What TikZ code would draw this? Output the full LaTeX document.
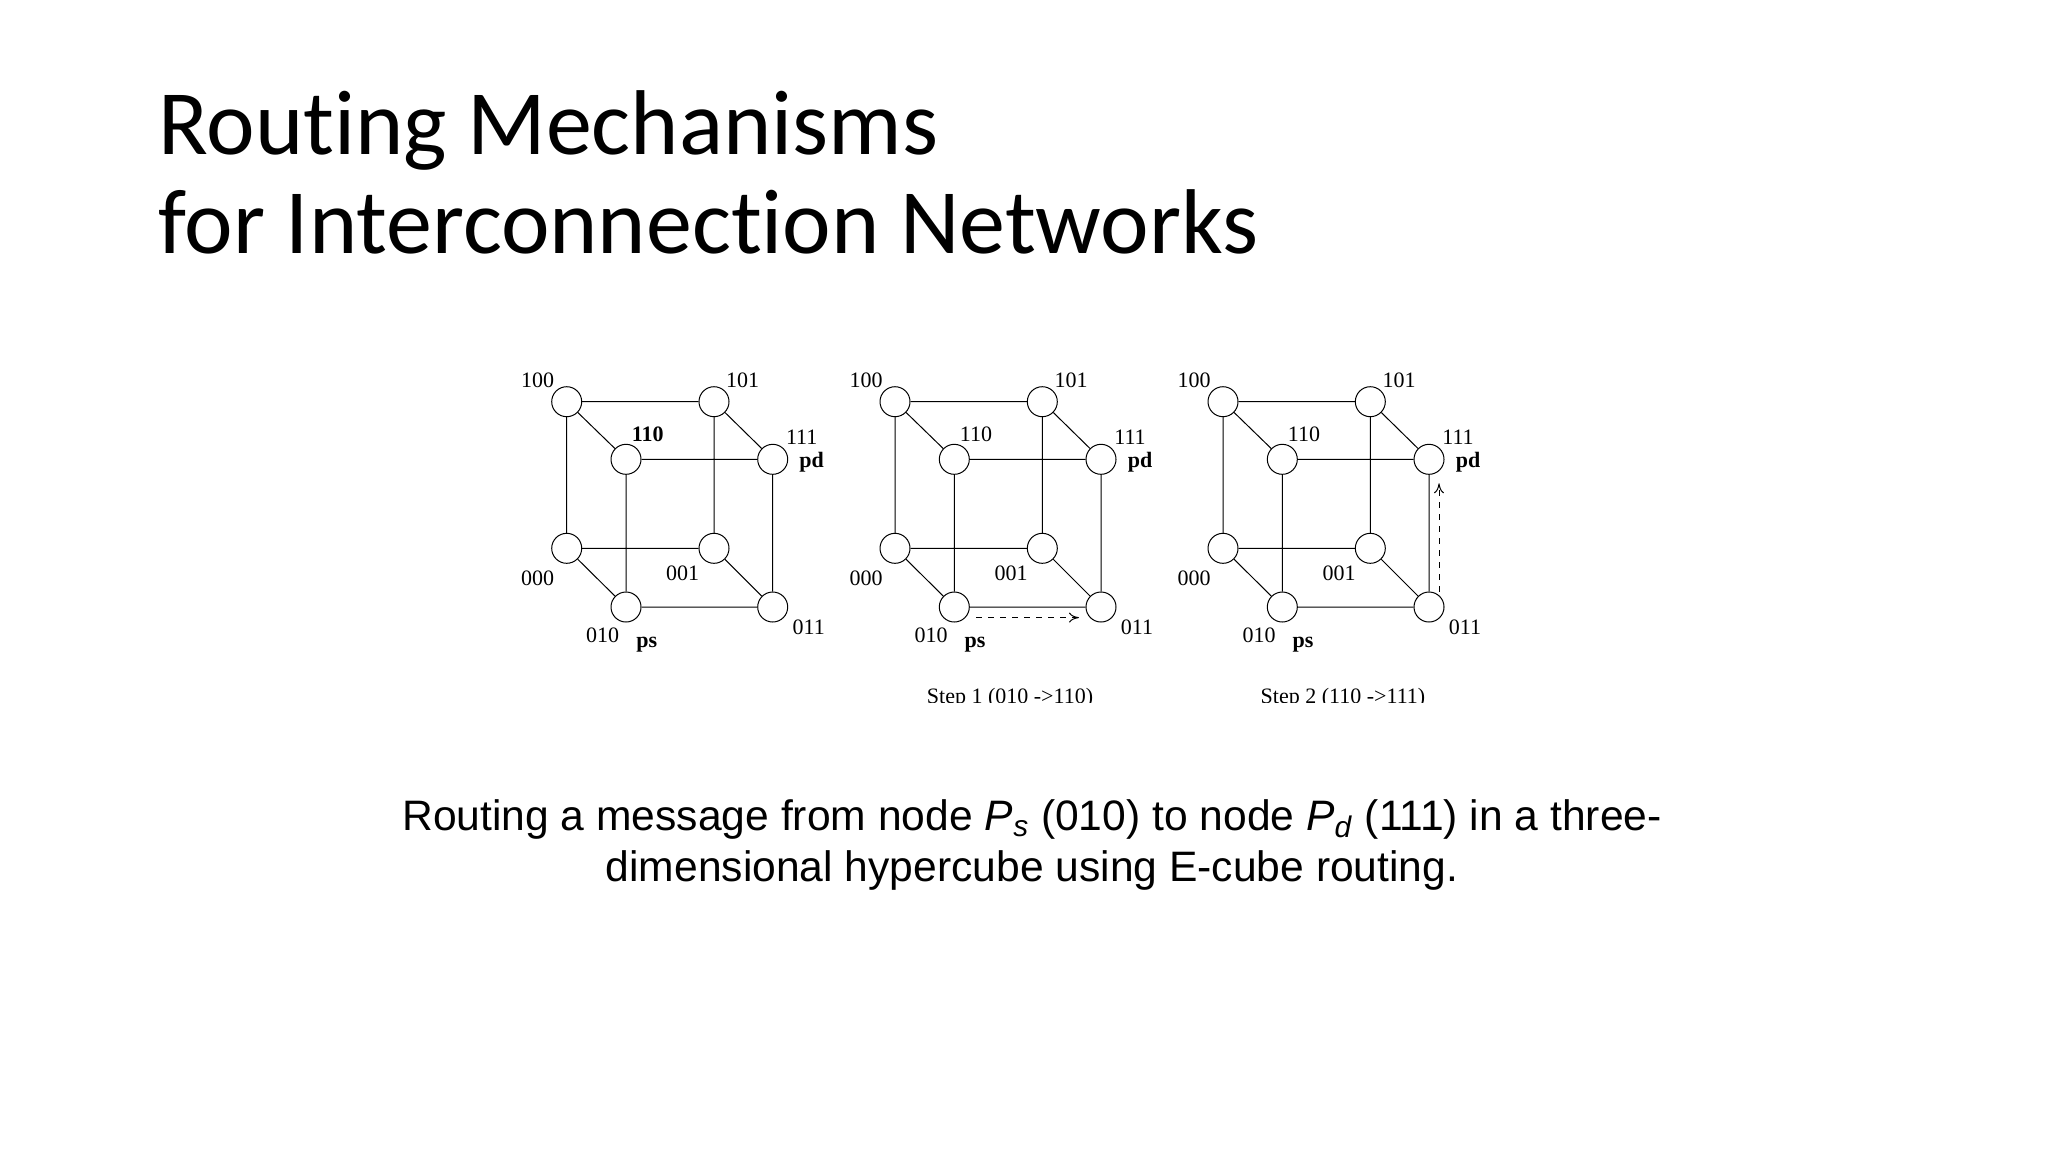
\documentclass[tikz,border=0pt]{standalone}
\usepackage{fontspec}
\setmainfont{Liberation Serif}
\newfontfamily\titlefont[Ligatures=NoCommon]{Carlito}
\newfontfamily\capfont{Liberation Sans}
\usetikzlibrary{shapes.geometric,arrows.meta}
\tikzset{
 vtx/.style={draw,circle,inner sep=0pt,minimum size=15pt,line width=0.5pt},
 edge/.style={line width=0.5pt},
 lbl/.style={inner sep=0pt,font=\fontsize{11}{11}\selectfont},
 route/.style={dashed,line width=0.5pt,-{To[length=5pt,width=5pt,open]}}
}
\newcommand\hcube[3]{% prefix, x0, bold110
 \node[vtx] (#1100) at (#2,401.7) {};
 \node[vtx] (#1101) at ({#2+147.3},401.7) {};
 \node[vtx] (#1110) at ({#2+59.3},459.3) {};
 \node[vtx] (#1111) at ({#2+206},459.3) {};
 \node[vtx] (#1000) at (#2,548.3) {};
 \node[vtx] (#1001) at ({#2+147.3},548.3) {};
 \node[vtx] (#1010) at ({#2+59.3},607) {};
 \node[vtx] (#1011) at ({#2+206},607) {};
 \draw[edge] (#1100)--(#1101) (#1100)--(#1110) (#1101)--(#1111) (#1110)--(#1111)
  (#1000)--(#1001) (#1000)--(#1010) (#1001)--(#1011) (#1010)--(#1011)
  (#1100)--(#1000) (#1101)--(#1001) (#1110)--(#1010) (#1111)--(#1011);
 \node[lbl] (#1l100) at ({#2-29},380) {100};
 \node[lbl] (#1l101) at ({#2+176},380) {101};
 \node[lbl] (#1l110) at ({#2+81},434) {#3{110}};
 \node[lbl] (#1l111) at ({#2+235},437) {111};
 \node[lbl] (#1lpd) at ({#2+245},462) {\textbf{pd}};
 \node[lbl] (#1l000) at ({#2-29},578) {000};
 \node[lbl] (#1l001) at ({#2+116},573) {001};
 \node[lbl] (#1l010) at ({#2+36},635) {010};
 \node[lbl] (#1lps) at ({#2+80},645) {\textbf{ps}};
 \node[lbl] (#1l011) at ({#2+242},627) {011};
}
\begin{document}
\begin{tikzpicture}[x=0.5pt,y=-0.5pt]
\useasboundingbox (0,0) rectangle (2048,1152);
\node[anchor=base west,inner sep=0pt,font=\titlefont\fontsize{46}{46}\selectfont] (t1) at (158,154) {Routing Mechanisms};
\node[anchor=base west,inner sep=0pt,font=\titlefont\fontsize{46}{46}\selectfont] (t2) at (158,253) {for Interconnection Networks};
\hcube{a}{566.7}{\textbf}
\hcube{b}{895}{}
\hcube{c}{1223}{}
\coordinate (r1s) at ([xshift=11pt,yshift=-5.3pt]b010.center);
\coordinate (r1e) at ([xshift=-11pt,yshift=-5.3pt]b011.center);
\draw[route] (r1s) -- (r1e);
\coordinate (r2s) at ([xshift=5pt]c011.center |- 0,591.7);
\coordinate (r2e) at ([xshift=5pt]c111.center |- 0,483.3);
\draw[route] (r2s) -- (r2e);
\begin{scope}
\clip (800,660) rectangle (1600,702);
\node[lbl,anchor=base] (s1) at (1010,703) {Step 1 (010 -{}>110)};
\node[lbl,anchor=base] (s2) at (1343,703) {Step 2 (110 -{}>111)};
\end{scope}
\node[align=center,inner sep=0pt,font=\capfont\fontsize{21.3}{25.5}\selectfont] (cap) at (1032,845) {Routing a message from node \textit{P}\textsubscript{\textit{s}} (010) to node \textit{P}\textsubscript{\textit{d}} (111) in a three-\\dimensional hypercube using E-cube routing.};
\end{tikzpicture}
\end{document}
